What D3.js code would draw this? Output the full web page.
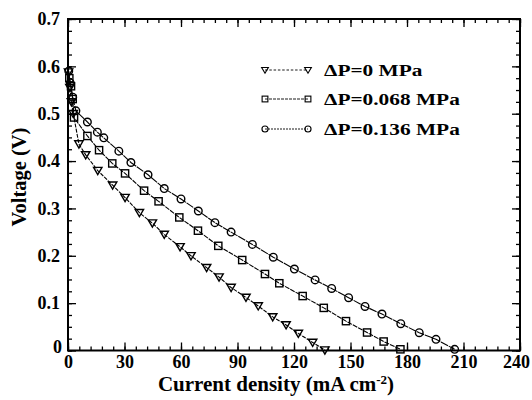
<!DOCTYPE html>
<html>
<head>
<meta charset="utf-8">
<script src="https://cdn.jsdelivr.net/npm/d3@7"></script>
<style>
  html, body { margin: 0; padding: 0; background: #fff; }
  svg { display: block; }
</style>
</head>
<body>
<svg id="chart" width="532" height="400" font-family="Liberation Serif" font-weight="bold"></svg>
<script>
// Polarization curves: current density (mA cm-2) vs voltage (V)
const seriesNames = ["\u0394P=0 MPa", "\u0394P=0.068 MPa", "\u0394P=0.136 MPa"];

const currentP0 = [0.3, 1.0, 1.8, 2.8, 5.8, 9.4, 15.8, 23.7, 30.3, 37.9, 44.8, 51.1, 59.5, 65.3, 73.6, 80.2, 86.6, 94.5, 101, 108.7, 115.8, 122.3, 129.9, 136.4];
const voltageP0 = [0.588, 0.555, 0.525, 0.50, 0.436, 0.413, 0.380, 0.349, 0.323, 0.291, 0.269, 0.245, 0.219, 0.200, 0.175, 0.155, 0.133, 0.112, 0.094, 0.071, 0.054, 0.036, 0.017, 0.001];

const currentP068 = [0.7, 1.6, 2.5, 3.2, 10.3, 16.5, 23.5, 30.3, 40.4, 48.1, 59.1, 69, 79.8, 92.5, 104.6, 112.2, 124.6, 135.8, 147.6, 158.8, 167.6, 176.5];
const voltageP068 = [0.575, 0.558, 0.531, 0.492, 0.453, 0.423, 0.395, 0.374, 0.3375, 0.315, 0.281, 0.253, 0.221, 0.191, 0.1615, 0.142, 0.115, 0.090, 0.062, 0.038, 0.019, 0.0025];

const currentP136 = [0.4, 1.2, 2.5, 4.2, 10.3, 15.6, 19, 27, 33.4, 42.5, 51.1, 60, 69.2, 78, 86.6, 97.9, 109, 120.2, 131.2, 140, 149, 157.7, 166.7, 176.7, 186.5, 195.4, 205.3];
const voltageP136 = [0.59, 0.565, 0.535, 0.506, 0.4825, 0.461, 0.449, 0.421, 0.397, 0.371, 0.342, 0.320, 0.2946, 0.270, 0.250, 0.224, 0.197, 0.172, 0.149, 0.131, 0.1115, 0.093, 0.077, 0.0566, 0.0376, 0.0236, 0.0025];

const xMajorTicks = [0, 30, 60, 90, 120, 150, 180, 210, 240];
const yMajorTicks = [0, 0.1, 0.2, 0.3, 0.4, 0.5, 0.6, 0.7];
const yTickLabels = ["0", "0.1", "0.2", "0.3", "0.4", "0.5", "0.6", "0.7"];

const FONT = "Liberation Serif";
const svg = d3.select("#chart");
const plotLeft = 68, plotRight = 520, plotTop = 19, plotBottom = 350.5;

const x = d3.scaleLinear().domain([0, 240]).range([plotLeft, plotRight]);
const y = d3.scaleLinear().domain([0, 0.7]).range([plotBottom, plotTop]);

const xMinor = d3.range(0, 241, 6);
const yMinor = d3.range(0, 0.7001, 0.025);

function styleAxis(g) {
  g.select(".domain").remove();
  g.attr("font-family", FONT).attr("font-weight", "bold").attr("font-size", 18);
  g.selectAll(".tick line").attr("stroke", "#000").attr("stroke-width", 1.3);
  g.selectAll(".tick text").attr("fill", "#000");
}

// minor ticks on all four sides (pointing inward)
svg.append("g").attr("transform", `translate(0,${plotBottom})`)
  .call(d3.axisBottom(x).tickValues(xMinor).tickSize(-4).tickFormat(""))
  .call(styleAxis);
svg.append("g").attr("transform", `translate(0,${plotTop})`)
  .call(d3.axisTop(x).tickValues(xMinor).tickSize(-4).tickFormat(""))
  .call(styleAxis);
svg.append("g").attr("transform", `translate(${plotLeft},0)`)
  .call(d3.axisLeft(y).tickValues(yMinor).tickSize(-4).tickFormat(""))
  .call(styleAxis);
svg.append("g").attr("transform", `translate(${plotRight},0)`)
  .call(d3.axisRight(y).tickValues(yMinor).tickSize(-4).tickFormat(""))
  .call(styleAxis);

// major ticks with labels
const xAx = svg.append("g").attr("transform", `translate(0,${plotBottom})`)
  .call(d3.axisBottom(x).tickValues(xMajorTicks).tickSize(-8).tickPadding(5).tickFormat(d3.format("d")))
  .call(styleAxis);
// keep the last label inside the canvas
xAx.selectAll(".tick").filter(d => d === 240).select("text").attr("dx", -4);

svg.append("g").attr("transform", `translate(0,${plotTop})`)
  .call(d3.axisTop(x).tickValues(xMajorTicks).tickSize(-8).tickFormat(""))
  .call(styleAxis);

const yAx = svg.append("g").attr("transform", `translate(${plotLeft},0)`)
  .call(d3.axisLeft(y).tickValues(yMajorTicks).tickSize(-8).tickPadding(8)
    .tickFormat((d, i) => yTickLabels[i]))
  .call(styleAxis);
yAx.selectAll(".tick").filter(d => d === 0).select("text").attr("dy", "0.1em").attr("x", -6);

svg.append("g").attr("transform", `translate(${plotRight},0)`)
  .call(d3.axisRight(y).tickValues(yMajorTicks).tickSize(-8).tickFormat(""))
  .call(styleAxis);

// frame
svg.append("rect")
  .attr("x", plotLeft).attr("y", plotTop)
  .attr("width", plotRight - plotLeft).attr("height", plotBottom - plotTop)
  .attr("fill", "none").attr("stroke", "#000").attr("stroke-width", 2);

// axis titles
const xt = svg.append("text")
  .attr("x", 276).attr("y", 391)
  .attr("font-family", FONT).attr("font-weight", "bold")
  .attr("text-anchor", "middle").attr("font-size", 21);
xt.append("tspan").text("Current density (mA cm");
xt.append("tspan").attr("font-size", 13).attr("dy", -7).text("-2");
xt.append("tspan").attr("dy", 7).text(")");

svg.append("text")
  .attr("transform", `translate(26,${177}) rotate(-90)`)
  .attr("font-family", FONT).attr("font-weight", "bold")
  .attr("text-anchor", "middle").attr("font-size", 20.5)
  .text("Voltage (V)");

// markers
const triPath = "M-4.2,-3.2L4.2,-3.2L0,4Z";
function drawMarker(g, type) {
  if (type === 0) g.append("path").attr("d", triPath);
  else if (type === 1) g.append("rect").attr("x", -3.6).attr("y", -3.6).attr("width", 7.2).attr("height", 7.2);
  else g.append("circle").attr("r", 3.8);
  g.selectAll("*").attr("fill", "none").attr("stroke", "#000").attr("stroke-width", 1.4);
}

const series = [
  { xs: currentP0, ys: voltageP0, dash: "4,1.2" },
  { xs: currentP068, ys: voltageP068, dash: "5,1" },
  { xs: currentP136, ys: voltageP136, dash: "8,0.8" }
];

const line = d3.line().x(d => x(d[0])).y(d => y(d[1]));

series.forEach((s, k) => {
  const pts = s.xs.map((v, i) => [v, s.ys[i]]);
  svg.append("path").datum(pts)
    .attr("d", line).attr("fill", "none")
    .attr("stroke", "#000").attr("stroke-width", 1.1)
    .attr("stroke-dasharray", s.dash);
  svg.append("g").selectAll("g").data(pts).join("g")
    .attr("transform", d => `translate(${x(d[0])},${y(d[1])})`)
    .each(function () { drawMarker(d3.select(this), k); });
});

// legend
const legendRows = [70, 99, 129];
const legendDash = ["2.5,1.8", "3,1", "2,1"];
seriesNames.forEach((name, k) => {
  const ly = legendRows[k];
  svg.append("line")
    .attr("x1", 265).attr("x2", 308).attr("y1", ly).attr("y2", ly)
    .attr("stroke", "#000").attr("stroke-width", 0.9)
    .attr("stroke-dasharray", legendDash[k]);
  [265, 308].forEach(px => {
    const g = svg.append("g").attr("transform", `translate(${px},${ly})`);
    drawMarker(g, k);
    g.selectAll("*").attr("transform", "scale(0.8)");
  });
  svg.append("text")
    .attr("transform", `translate(324,${ly + 5.5}) scale(1.22,1)`)
    .attr("font-family", FONT).attr("font-weight", "bold")
    .attr("font-size", 17.5)
    .text(name);
});
</script>
</body>
</html>
